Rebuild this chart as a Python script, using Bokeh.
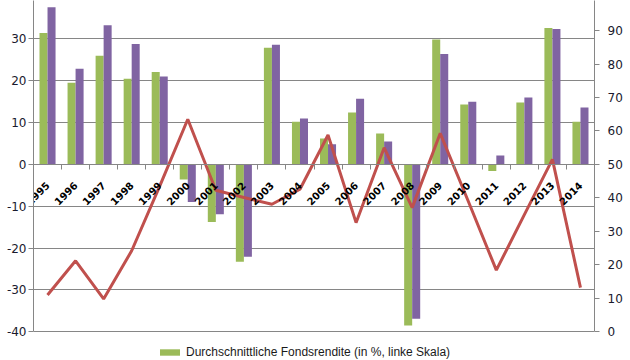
from math import pi
from bokeh.plotting import figure
from bokeh.models import (Range1d, LinearAxis, FixedTicker, SingleIntervalTicker, LinearScale,
                          PrintfTickFormatter, Legend, LegendItem, ColumnDataSource)
from bokeh.embed import file_html
from bokeh.resources import INLINE

years = ["1995", "1996", "1997", "1998", "1999", "2000", "2001", "2002", "2003", "2004",
         "2005", "2006", "2007", "2008", "2009", "2010", "2011", "2012", "2013", "2014"]
fondsrendite = [31.4, 19.5, 26.0, 20.5, 22.1, -3.6, -13.8, -23.3, 27.9, 10.2,
                6.2, 12.4, 7.4, -38.5, 29.9, 14.3, -1.6, 14.8, 32.6, 10.2]
vergleich = [37.6, 22.9, 33.3, 28.8, 21.0, -9.0, -11.9, -22.1, 28.6, 11.0,
             4.8, 15.7, 5.5, -36.9, 26.4, 15.0, 2.1, 16.0, 32.4, 13.6]
rechte_skala = [11.0, 21.2, 9.8, 24.2, 43.5, 63.5, 42.3, 40.1, 38.1, 42.6,
                58.8, 32.6, 55.0, 37.1, 59.3, 39.0, 18.4, 35.0, 51.5, 13.2]

legend_label = "Durchschnittliche Fondsrendite (in %, linke Skala)"

GREEN = "#9BBB59"
PURPLE = "#8064A2"
RED = "#C0504D"
GRAY = "#868686"

n = len(years)
centers = [i + 0.5 for i in range(n)]
w = 0.286

src = ColumnDataSource(dict(
    x=centers,
    xg=[c - w / 2 for c in centers],
    xv=[c + w / 2 for c in centers],
    g=fondsrendite, v=vergleich, r=rechte_skala))

p = figure(width=630, height=360, output_backend="svg", toolbar_location=None,
           x_range=Range1d(0, n), y_range=Range1d(-46.9, 39.2),
           min_border_top=0, min_border_left=33, min_border_right=36, min_border_bottom=0,
           x_axis_location=None, y_axis_location=None)
p.outline_line_color = None
p.xgrid.grid_line_color = None
p.ygrid.grid_line_color = GRAY
p.ygrid.grid_line_width = 1
p.ygrid.ticker = SingleIntervalTicker(interval=10)
p.ygrid.bounds = (-40, 40)

p.extra_y_ranges = {"right": Range1d(-8.6, 99.0)}
p.extra_y_scales = {"right": LinearScale()}

lab_font = "DejaVu Sans"

# left axis
ly = LinearAxis(ticker=SingleIntervalTicker(interval=10),
                formatter=PrintfTickFormatter(format="%d"), bounds=(-40, 40))
ly.axis_line_color = GRAY
ly.major_tick_line_color = GRAY
ly.major_tick_in = 0
ly.major_tick_out = 5
ly.minor_tick_line_color = None
ly.major_label_standoff = 2
ly.major_label_text_font = lab_font
ly.major_label_text_font_size = "12px"
ly.major_label_text_color = "#1a1a2e"
p.add_layout(ly, "left")

# right axis
ry = LinearAxis(y_range_name="right", ticker=SingleIntervalTicker(interval=10),
                formatter=PrintfTickFormatter(format="%d"), bounds=(0, 100))
ry.axis_line_color = GRAY
ry.major_tick_line_color = GRAY
ry.major_tick_in = 0
ry.major_tick_out = 5
ry.minor_tick_line_color = None
ry.major_label_standoff = 8
ry.major_label_text_font = lab_font
ry.major_label_text_font_size = "12px"
ry.major_label_text_color = "#1a1a2e"
p.add_layout(ry, "right")

# bars
gb = p.vbar(x="xg", top="g", bottom=0, width=w, source=src,
            fill_color=GREEN, line_color=None)
p.vbar(x="xv", top="v", bottom=0, width=w, source=src,
       fill_color=PURPLE, line_color=None)

# line on right scale
p.line(x="x", y="r", source=src, y_range_name="right", line_color=RED, line_width=3)

# year labels on the zero line
xa = LinearAxis(fixed_location=0, ticker=FixedTicker(ticks=centers))
xa.major_label_overrides = {c: y for c, y in zip(centers, years)}
xa.axis_line_color = GRAY
xa.major_tick_line_color = None
xa.minor_tick_line_color = None
xa.major_tick_out = 6
xa.major_label_orientation = pi / 4
xa.major_label_text_font = lab_font
xa.major_label_text_font_style = "bold"
xa.major_label_text_font_size = "10px"
xa.major_label_text_color = "black"
xa.major_label_standoff = 13
p.add_layout(xa, "below")

# boundary ticks
bx = LinearAxis(fixed_location=0, ticker=FixedTicker(ticks=list(range(n + 1))))
bx.axis_line_color = GRAY
bx.major_tick_line_color = GRAY
bx.major_tick_in = 0
bx.major_tick_out = 5
bx.minor_tick_line_color = None
bx.major_label_text_font_size = "0px"
bx.major_label_text_alpha = 0
p.add_layout(bx, "below")

legend = Legend(items=[LegendItem(label=legend_label, renderers=[gb])],
                location=(124, 1), orientation="horizontal")
legend.background_fill_alpha = 0
legend.border_line_color = None
legend.padding = 0
legend.margin = 0
legend.glyph_width = 25
legend.glyph_height = 8
legend.label_standoff = 4
legend.label_height = 12
legend.label_text_font = "Liberation Sans"
legend.label_text_font_size = "12px"
legend.label_text_color = "#1a1a1a"
p.add_layout(legend, "center")

open("out.html", "w").write(file_html(p, INLINE))
